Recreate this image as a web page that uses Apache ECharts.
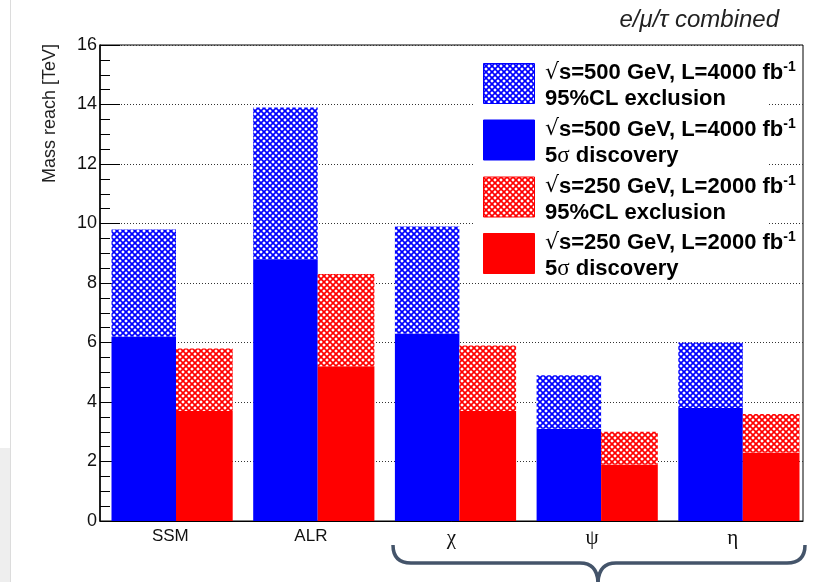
<!DOCTYPE html>
<html>
<head>
<meta charset="utf-8">
<script src="https://cdn.jsdelivr.net/npm/echarts@6/dist/echarts.min.js"></script>
<style>
html,body{margin:0;padding:0;background:#fff;}
#chart{width:817px;height:582px;}
</style>
</head>
<body>
<div id="chart"></div>
<script>
// ---- data ----
const categories = ['SSM', 'ALR', 'χ', 'ψ', 'η'];
const discovery500 = [6.2, 8.8, 6.3, 3.1, 3.8];
const exclusion500 = [9.8, 13.9, 9.9, 4.9, 6.0];
const discovery250 = [3.7, 5.2, 3.7, 1.9, 2.3];
const exclusion250 = [5.8, 8.3, 5.9, 3.0, 3.6];
const yTickValues = [0, 2, 4, 6, 8, 10, 12, 14, 16];
const legendLine1 = ['s=500 GeV, L=4000 fb', 's=500 GeV, L=4000 fb', 's=250 GeV, L=2000 fb', 's=250 GeV, L=2000 fb'];
const legendLine2 = ['95%CL exclusion', '5σ discovery', '95%CL exclusion', '5σ discovery'];
const titleText = 'e/μ/τ combined';
const yAxisTitle = 'Mass reach [TeV]';

const BLUE = '#0000ff', RED = '#ff0000';

function hatch(color) {
  const s = 6;
  const c = document.createElement('canvas');
  c.width = s; c.height = s;
  const g = c.getContext('2d');
  g.fillStyle = '#ffffff';
  g.fillRect(0, 0, s, s);
  g.strokeStyle = color;
  g.lineWidth = 1.7;
  g.beginPath();
  g.moveTo(-1, -1); g.lineTo(s + 1, s + 1);
  g.moveTo(s + 1, -1); g.lineTo(-1, s + 1);
  g.stroke();
  return {image: c, repeat: 'repeat'};
}
const blueHatch = hatch(BLUE);
const redHatch = hatch(RED);

const diff = (a, b) => a.map((v, i) => +(v - b[i]).toFixed(3));

const chart = echarts.init(document.getElementById('chart'), null, {renderer: 'canvas'});

const greek = ['χ', 'ψ', 'η'];
const legendFills = [blueHatch, BLUE, redHatch, RED];
const legendStrokes = [BLUE, BLUE, RED, RED];

const graphics = [];
// left page strip
graphics.push({type: 'rect', shape: {x: 0, y: 448, width: 10, height: 134}, style: {fill: '#eeeeee'}, z: 1});
graphics.push({type: 'line', shape: {x1: 10.5, y1: 0, x2: 10.5, y2: 582}, style: {stroke: '#dcdcdc', lineWidth: 1}, z: 1});
// y axis title
graphics.push({type: 'text', x: 50, y: 44, rotation: Math.PI / 2,
  style: {text: yAxisTitle, fontFamily: 'Liberation Sans', fontSize: 18, fill: '#222', align: 'right', verticalAlign: 'middle'}, z: 50});
// legend background
graphics.push({type: 'rect', shape: {x: 474, y: 52, width: 293, height: 228}, style: {fill: '#ffffff'}, z: 40});
const entryTop = [63, 119.5, 176.5, 233];
for (let i = 0; i < 4; i++) {
  graphics.push({type: 'rect', shape: {x: 483.5, y: entryTop[i] + 0.5, width: 51, height: 40},
    style: {fill: legendFills[i], stroke: legendStrokes[i], lineWidth: 1}, z: 50});
  graphics.push({type: 'text', x: 545, y: entryTop[i] + 10,
    style: {text: '{r|√}' + legendLine1[i] + '{sup|-1}', fontFamily: 'Liberation Sans', fontWeight: 'bold', fontSize: 22, fill: '#000',
      verticalAlign: 'middle', align: 'left',
      rich: {
        r: {fontFamily: 'DejaVu Sans', fontSize: 22, fontWeight: 'normal', fill: '#000', lineHeight: 25},
        sup: {fontFamily: 'Liberation Sans', fontWeight: 'bold', fontSize: 14, fill: '#000', verticalAlign: 'top', lineHeight: 25}
      }}, z: 50});
  const l2 = legendLine2[i].indexOf('σ') >= 0
    ? '5{s|σ} discovery' : legendLine2[i];
  graphics.push({type: 'text', x: 545, y: entryTop[i] + 36,
    style: {text: l2, fontFamily: 'Liberation Sans', fontWeight: 'bold', fontSize: 22, fill: '#000',
      verticalAlign: 'middle', align: 'left',
      rich: {s: {fontFamily: 'Liberation Serif', fontSize: 23, fontWeight: 'normal', fill: '#000'}}}, z: 50});
}
// brace
const bc = '#44546a', bw = 3.5;
graphics.push({type: 'bezierCurve', shape: {x1: 393, y1: 545, x2: 411, y2: 563, cpx1: 393, cpy1: 563}, style: {stroke: bc, lineWidth: bw, fill: null}, z: 50});
graphics.push({type: 'line', shape: {x1: 411, y1: 563, x2: 580, y2: 563}, style: {stroke: bc, lineWidth: bw}, z: 50});
graphics.push({type: 'bezierCurve', shape: {x1: 580, y1: 563, x2: 598, y2: 584, cpx1: 598, cpy1: 563}, style: {stroke: bc, lineWidth: bw, fill: null}, z: 50});
graphics.push({type: 'bezierCurve', shape: {x1: 805, y1: 545, x2: 787, y2: 563, cpx1: 805, cpy1: 563}, style: {stroke: bc, lineWidth: bw, fill: null}, z: 50});
graphics.push({type: 'line', shape: {x1: 787, y1: 563, x2: 616, y2: 563}, style: {stroke: bc, lineWidth: bw}, z: 50});
graphics.push({type: 'bezierCurve', shape: {x1: 616, y1: 563, x2: 598, y2: 584, cpx1: 598, cpy1: 563}, style: {stroke: bc, lineWidth: bw, fill: null}, z: 50});

const option = {
  backgroundColor: '#ffffff',
  animation: false,
  title: {
    text: titleText, right: 33, top: 3,
    textStyle: {fontFamily: 'Liberation Sans', fontStyle: 'italic', fontWeight: 'normal', fontSize: 24, color: '#222'}
  },
  grid: [
    {left: 100, right: 14, top: 45, bottom: 61, show: true, borderColor: '#000', borderWidth: 1, backgroundColor: 'transparent'},
    {left: 101.25, right: 7.25, top: 45, bottom: 61}
  ],
  xAxis: [
    {type: 'category', gridIndex: 0, data: categories,
      axisLine: {show: true, lineStyle: {color: '#000', width: 1}},
      axisTick: {show: false},
      axisLabel: {margin: 7, color: '#111', fontFamily: 'Liberation Sans', fontSize: 17,
        formatter: v => greek.includes(v) ? '{g|' + v + '}' : v,
        rich: {g: {fontFamily: 'Liberation Serif', fontSize: 21, color: '#111'}}},
      splitLine: {show: false}},
    {type: 'category', gridIndex: 1, data: categories, show: false}
  ],
  yAxis: [
    {type: 'value', gridIndex: 0, min: yTickValues[0], max: yTickValues[yTickValues.length - 1], interval: 2,
      axisLine: {show: true, lineStyle: {color: '#000', width: 1.5}},
      axisTick: {show: true, inside: true, length: 20, lineStyle: {color: '#000', width: 1}},
      minorTick: {show: true, splitNumber: 4, length: 10, lineStyle: {color: '#000', width: 1}},
      axisLabel: {margin: 3, color: '#111', fontFamily: 'Liberation Sans', fontSize: 18},
      splitLine: {show: true, lineStyle: {color: '#333', type: [1, 2], width: 1}}},
    {type: 'value', gridIndex: 1, min: 0, max: 16, show: false, splitLine: {show: false}}
  ],
  graphic: graphics,
  series: [
    {name: 'discovery500', type: 'bar', xAxisIndex: 1, yAxisIndex: 1, stack: 'b', barWidth: 64.5, barGap: '0%',
      data: discovery500, itemStyle: {color: BLUE}, z: 3},
    {name: 'exclusion500', type: 'bar', xAxisIndex: 1, yAxisIndex: 1, stack: 'b', barWidth: 64.5, barGap: '0%',
      data: diff(exclusion500, discovery500), itemStyle: {color: blueHatch}, z: 3},
    {name: 'discovery250', type: 'bar', xAxisIndex: 1, yAxisIndex: 1, stack: 'r', barWidth: 56.7, barGap: '0%',
      data: discovery250, itemStyle: {color: RED}, z: 3},
    {name: 'exclusion250', type: 'bar', xAxisIndex: 1, yAxisIndex: 1, stack: 'r', barWidth: 56.7, barGap: '0%',
      data: diff(exclusion250, discovery250), itemStyle: {color: redHatch}, z: 3}
  ]
};
chart.setOption(option);
</script>
</body>
</html>
